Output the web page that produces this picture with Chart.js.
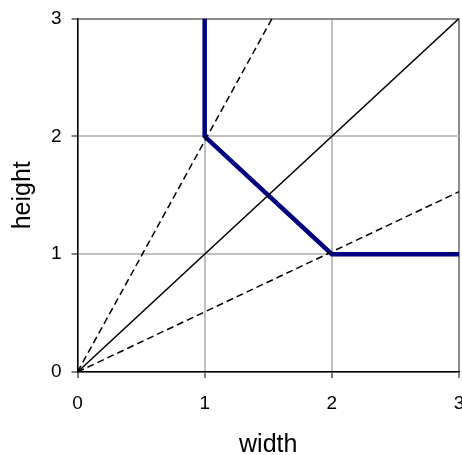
<!DOCTYPE html>
<html>
<head>
<meta charset="utf-8">
<script src="https://cdn.jsdelivr.net/npm/chart.js@4/dist/chart.umd.min.js"></script>
<style>
  html, body { margin: 0; padding: 0; background: #fff; overflow: hidden; }
  #chart { display: block; width: 470px; height: 455px; }
</style>
</head>
<body>
<canvas id="chart" width="470" height="455"></canvas>
<script>
// axis ticks
const xTicks = [0, 1, 2, 3];
const yTicks = [0, 1, 2, 3];

// thick step boundary
const stepX = [1, 1, 2, 3];
const stepY = [3, 2, 1, 1];

// diagonal y = x
const diagX = [0, 3];
const diagY = [0, 3];

// steep dashed ray
const steepX = [0, 1.53];
const steepY = [0, 3];

// shallow dashed ray
const shallowX = [0, 3];
const shallowY = [0, 1.53];

const toPts = (xs, ys) => xs.map((x, i) => ({ x: x, y: ys[i] }));

const tickFont = { family: 'Liberation Sans, Arial, sans-serif', size: 19 };
const titleFont = { family: 'Liberation Sans, Arial, sans-serif', size: 25, lineHeight: 0.8 };

function gridColor(ctx) {
    if (ctx.tick && ctx.tick.value === 3) return '#8c8c8c';
    return '#c0c0c0';
}

// keep the plot box fixed, labels may run past the edge
function noEdgePadding(s) {
    s.paddingLeft = 0; s.paddingRight = 0;
    s.paddingTop = 0; s.paddingBottom = 0;
}

new Chart(document.getElementById('chart'), {
    type: 'scatter',
    data: {
        datasets: [
            { data: toPts(diagX, diagY), borderColor: '#000', borderWidth: 1.5 },
            { data: toPts(steepX, steepY), borderColor: '#000', borderWidth: 1.5, borderDash: [7, 4] },
            { data: toPts(shallowX, shallowY), borderColor: '#000', borderWidth: 1.5, borderDash: [7, 4] },
            { data: toPts(stepX, stepY), borderColor: '#000080', borderWidth: 4.5 }
        ].map(d => Object.assign({ showLine: true, pointRadius: 0, fill: false, tension: 0 }, d))
    },
    options: {
        responsive: false,
        animation: false,
        layout: { padding: { top: 18.5, right: 11, left: 0, bottom: 0 } },
        plugins: { legend: { display: false }, tooltip: { enabled: false } },
        scales: {
            x: {
                type: 'linear', min: 0, max: 3,
                afterBuildTicks: s => { s.ticks = xTicks.map(v => ({ value: v })); },
                afterFit: s => { s.height = 83; noEdgePadding(s); },
                ticks: { color: '#000', font: tickFont, padding: 14, maxRotation: 0 },
                grid: { color: gridColor, lineWidth: 2, tickColor: '#000', tickLength: 6, tickWidth: 1 },
                border: { color: '#000', width: 1.5 },
                title: { display: true, text: 'width', color: '#000', font: titleFont, padding: { top: 8, bottom: 0 } }
            },
            y: {
                type: 'linear', min: 0, max: 3,
                afterBuildTicks: s => { s.ticks = yTicks.map(v => ({ value: v })); },
                afterFit: s => { s.width = 77.5; noEdgePadding(s); },
                ticks: { color: '#000', font: tickFont, padding: 10 },
                grid: { color: gridColor, lineWidth: 2, tickColor: '#000', tickLength: 6, tickWidth: 1 },
                border: { color: '#000', width: 1.5 },
                title: { display: true, text: 'height', color: '#000', font: titleFont, padding: { top: 13, bottom: 0 } }
            }
        }
    }
});
</script>
</body>
</html>
